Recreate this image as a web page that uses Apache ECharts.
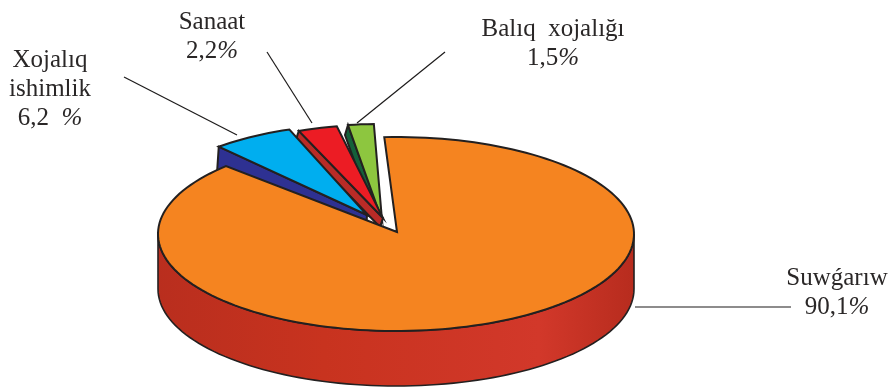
<!DOCTYPE html>
<html><head><meta charset="utf-8">
<style>html,body{margin:0;padding:0;background:#fff}#c{width:892px;height:387px}</style>
<script src="https://cdn.jsdelivr.net/npm/echarts@6/dist/echarts.min.js"></script>
</head><body><div id="c"></div>
<script>
// Data (draw order: back slices first, main slice last)
var sliceNames = ['Balıq  xojalığı', 'Sanaat', 'Xojalıq\nishimlik', 'Suwǵarıw'];
var sliceValues = [1.5, 2.2, 6.2, 90.1];
var percentLabels = ['1,5%', '2,2%', '6,2  %', '90,1%'];

// Styling and layout
var CX = 396, CY = 234, RX = 238, RY = 97, DEPTH = 55;
var layout = [
  {apex:[382,220], scale:.99, end:98.3, stretch:1.17, side:[-3,10], top:'#8DC63F', dark:'#14603A',
   label:[553,44], line:[[445,52],[357,123]]},
  {apex:[383,218], scale:.965, end:111.5, stretch:1.25, side:[-3,9], top:'#EC1C24', dark:'#B92B27',
   label:[212,37], line:[[267,52],[312,123]]},
  {apex:[367,215], scale:.94, end:131.5, stretch:.95, side:[-2,30], top:'#00AEEF', dark:'#2E3192',
   label:[50,89], line:[[124,77],[237,135]]},
  {apex:[397,232], scale:1, end:135.6, stretch:.978, side:null, top:'#F58420', dark:'#C8331F',
   label:[837,293], line:[[635,307],[791,307]]}
];
var STROKE = '#232020';

function arcPts(cx, cy, rx, ry, t0, t1) {
  var pts = [], n = Math.max(2, Math.ceil(Math.abs(t1 - t0) / 2));
  for (var i = 0; i <= n; i++) {
    var t = (t0 + (t1 - t0) * i / n) * Math.PI / 180;
    pts.push([cx + rx * Math.cos(t), cy - ry * Math.sin(t)]);
  }
  return pts;
}
function poly(points, fill, width) {
  return {type:'polygon', shape:{points:points},
    style:{fill:fill, stroke:STROKE, lineWidth:width || 2, lineJoin:'miter'}};
}
function renderItem(params, api) {
  var i = params.dataIndex, L = layout[i], v = api.value(0);
  var sweep = v / 100 * 360 * L.stretch, children = [];
  if (L.side) {
    var rx = RX * L.scale, ry = RY * L.scale;
    var arc = arcPts(L.apex[0], L.apex[1], rx, ry, L.end, L.end - sweep);
    var a = arc[0], ap = L.apex, s = L.side;
    // visible wall along the lower edge of the exploded wedge
    children.push(poly([a, ap, [ap[0]+s[0], ap[1]+s[1]], [a[0]+s[0], a[1]+s[1]]], L.dark));
    children.push(poly([L.apex].concat(arc), L.top));
  } else {
    // main slice: outer wall, then top face
    var front = arcPts(CX, CY, RX, RY, 180, 360);
    var back = front.map(function (p) { return [p[0], p[1] + DEPTH]; }).reverse();
    children.push({type:'polygon', shape:{points:front.concat(back)},
      style:{stroke:STROKE, lineWidth:1.6, fill:new echarts.graphic.LinearGradient(0,0,1,0,[
        {offset:0,color:'#B92E1E'},{offset:.35,color:L.dark},{offset:.8,color:'#D2382A'},{offset:1,color:'#B72C1E'}])}});
    var top = arcPts(CX, CY, RX, RY, L.end, L.end + sweep);
    children.push(poly([L.apex].concat(top), L.top));
  }
  // leader line
  children.push({type:'line', shape:{x1:L.line[0][0], y1:L.line[0][1], x2:L.line[1][0], y2:L.line[1][1]},
    style:{stroke:'#1d1b1b', lineWidth:1.2}});
  // label
  var pct = percentLabels[i].replace('%', '{p|%}');
  children.push({type:'text', style:{
    text: sliceNames[i] + '\n' + pct, x:L.label[0], y:L.label[1], align:'center', verticalAlign:'middle',
    fill:'#2a2727', font:'25px "Liberation Serif"', lineHeight:29,
    rich:{p:{font:'italic 25px "Liberation Serif"', fill:'#2a2727', lineHeight:29}}}});
  return {type:'group', children:children};
}
var chart = echarts.init(document.getElementById('c'), null, {renderer:'canvas'});
chart.setOption({
  animation:false,
  backgroundColor:'#fff',
  series:[{type:'custom', coordinateSystem:'none', renderItem:renderItem,
    silent:true, clip:false, data:sliceValues.map(function(v){return [v];}),
    encode:{value:0}}]
});
</script></body></html>
